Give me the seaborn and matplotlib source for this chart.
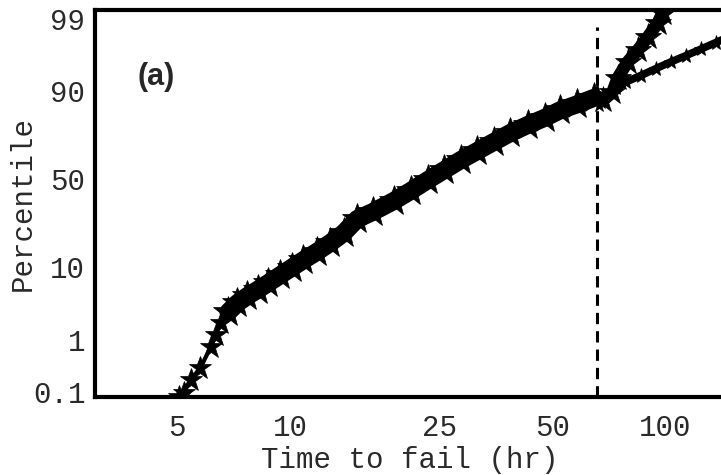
import matplotlib
matplotlib.use('Agg')
import matplotlib.pyplot as plt
import numpy as np
import seaborn as sns
from statistics import NormalDist
from matplotlib.ticker import FixedLocator, FixedFormatter, NullLocator

# values (time in hours, percentile)
tail_time = [5.05, 5.20, 5.43, 5.77, 6.14, 6.33, 6.53, 6.85, 7.24]
tail_pct = [0.079, 0.097, 0.18, 0.31, 0.74, 1.19, 1.84, 2.7, 3.6]

body_time = [6.85, 7.24, 7.70, 8.19, 8.76, 9.43, 10.09, 10.86, 11.77, 12.8, 13.9,
             15.1, 16.6, 18.9, 20.96, 23.3, 25.8, 28.5, 31.6, 34.9, 38.7, 43.0,
             47.7, 52.6, 58.4, 64.5]
body_pct = [2.7, 3.6, 4.5, 5.4, 6.6, 8.2, 9.9, 12.0, 14.5, 17.7, 21.7,
            28.1, 31.6, 37.5, 43.1, 49.4, 55.2, 60.8, 65.8, 70.4, 74.8, 78.3,
            81.2, 84.1, 86.1, 88.0]

upper_time = [66.0, 68.5, 72.4, 74.7, 79.4, 84.5, 89.8, 95.5, 98.5, 99.7, 101.0]
upper_pct = [88.4, 87.4, 89.6, 92.8, 95.5, 96.9, 98.0, 98.8, 99.2, 99.53, 99.7]

fit_time = [73.8, 78.5, 86.0, 94.3, 103.4, 113.4, 124.3, 136.4, 149.5]
fit_pct = [90.6, 92.0, 93.3, 94.5, 95.5, 96.3, 97.0, 97.6, 98.1]

cut_time = 66.0
cut_top = 98.6

x_ticks = [5, 10, 25, 50, 100]
y_ticks = [0.1, 1, 10, 50, 90, 99]
y_labels = ['0.1', '1', '10', '50', '90', '99']

sns.set_style('white')
plt.rcParams['font.family'] = ['Liberation Mono', 'DejaVu Sans Mono']

nd = NormalDist()


def to_z(p):
    p = np.clip(np.asarray(p, dtype=float) / 100.0, 1e-9, 1 - 1e-9)
    return np.vectorize(nd.inv_cdf, otypes=[float])(p)


def from_z(z):
    return np.vectorize(nd.cdf, otypes=[float])(np.asarray(z, dtype=float)) * 100.0


fig = plt.figure(figsize=(7.21, 4.75), dpi=100)
ax = fig.add_axes([0.1318, 0.1642, 0.8738, 0.8158])
ax.set_xscale('log')
ax.set_yscale('function', functions=(to_z, from_z))
ax.set_xlim(3.02, 144.5)
ax.set_ylim(0.079, 99.3)

# cut-off line
ax.plot([cut_time, cut_time], [0.079, cut_top], color='black', lw=2.2,
        dashes=(3.7, 2.3), zorder=1)

star = dict(color='black', marker='*', markeredgecolor='black',
            markeredgewidth=0.5, estimator=None, sort=False, legend=False, ax=ax)
sns.lineplot(x=tail_time, y=tail_pct, lw=3, ms=17, **star)
sns.lineplot(x=body_time, y=body_pct, lw=13, ms=23, **star)
sns.lineplot(x=upper_time, y=upper_pct, lw=9, ms=20, **star)
sns.lineplot(x=fit_time, y=fit_pct, lw=5.5, ms=11, **star)

ax.text(0.0968, 0.826, '(a)', transform=ax.transAxes, ha='center', va='center',
        fontsize=22, fontweight='bold', family=['Liberation Sans', 'DejaVu Sans'])

ax.xaxis.set_major_locator(FixedLocator(x_ticks))
ax.xaxis.set_major_formatter(FixedFormatter([str(t) for t in x_ticks]))
ax.xaxis.set_minor_locator(NullLocator())
ax.yaxis.set_major_locator(FixedLocator(y_ticks))
ax.yaxis.set_major_formatter(FixedFormatter(y_labels))
ax.yaxis.set_minor_locator(NullLocator())

ax.tick_params(axis='both', direction='in', length=3.6, width=0.8, color='black',
               labelsize=21, labelcolor='#2a2a2a')
ax.tick_params(axis='x', pad=12)
ax.tick_params(axis='y', pad=7)

for side in ['left', 'top', 'bottom']:
    ax.spines[side].set_linewidth(3)
    ax.spines[side].set_color('black')
ax.spines['right'].set_visible(False)

ax.set_xlabel('Time to fail (hr)', fontsize=21, labelpad=3, color='#2a2a2a')
ax.set_ylabel('Percentile', fontsize=21, labelpad=-3, color='#2a2a2a')

fig.savefig('out.png', dpi=100)
